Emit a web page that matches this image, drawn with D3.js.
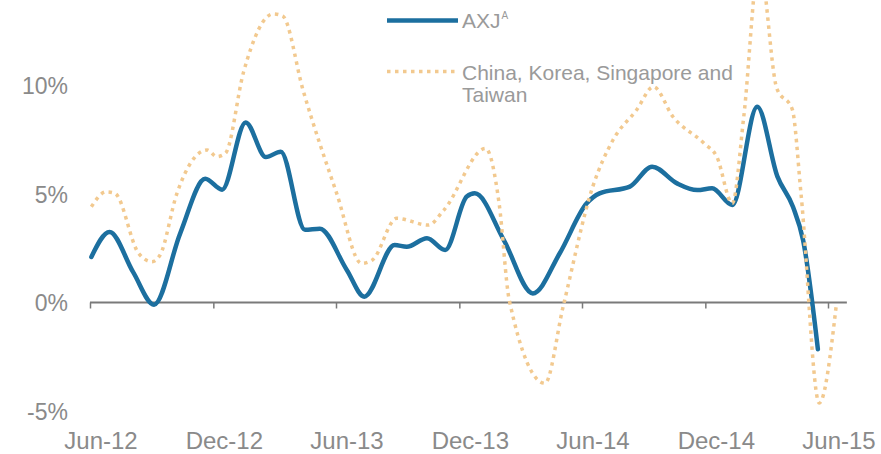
<!DOCTYPE html>
<html>
<head>
<meta charset="utf-8">
<script src="https://cdn.jsdelivr.net/npm/d3@7/dist/d3.min.js"></script>
<style>
  html, body { margin: 0; padding: 0; background: #fff; }
  svg { display: block; font-family: "Liberation Sans", Arial, sans-serif; }
</style>
</head>
<body>
<svg id="chart" width="881" height="454"></svg>
<script>
// Year-on-year growth, %, AXJ aggregate
const axjDates = [
  "2012-06-03","2012-06-30","2012-08-04","2012-09-04","2012-10-13","2012-11-19",
  "2012-12-14","2013-01-18","2013-02-17","2013-03-11","2013-04-16","2013-05-08",
  "2013-06-17","2013-07-13","2013-08-27","2013-09-14","2013-10-14","2013-11-10",
  "2013-12-12","2013-12-24","2014-02-05","2014-03-20","2014-04-29","2014-06-08",
  "2014-06-27","2014-08-11","2014-09-13","2014-10-20","2014-11-19","2014-12-11",
  "2015-01-10","2015-02-16","2015-03-18","2015-04-10","2015-04-25","2015-05-17"
];
const axjValues = [
  2.1, 3.25, 1.4, -0.1, 3.2, 5.7,
  5.2, 8.3, 6.7, 6.95, 3.35, 3.4,
  1.5, 0.27, 2.65, 2.57, 2.96, 2.42,
  4.88, 5.03, 2.88, 0.42, 2.27, 4.57,
  5.03, 5.34, 6.26, 5.49, 5.18, 5.26,
  4.49, 9.02, 5.8, 4.41, 2.88, -2.15
];

// Year-on-year growth, %, China, Korea, Singapore and Taiwan
const ckstDates = [
  "2012-06-03","2012-06-25","2012-07-08","2012-08-12","2012-09-01","2012-09-13",
  "2012-10-08","2012-11-22","2012-12-06","2012-12-19","2013-01-15","2013-02-28",
  "2013-03-14","2013-04-13","2013-06-02","2013-07-09","2013-07-25","2013-08-30",
  "2013-10-16","2013-11-08","2014-01-09","2014-01-29","2014-02-13","2014-04-07",
  "2014-05-04","2014-06-17","2014-07-17","2014-08-21","2014-09-15","2014-10-14",
  "2014-11-29","2014-12-18","2015-01-10","2015-01-27","2015-02-19","2015-03-17",
  "2015-04-09","2015-04-22","2015-05-19","2015-06-13"
];
const ckstValues = [
  4.41, 5.1, 5.03, 2.27, 1.88, 2.19,
  5.03, 7.03, 6.72, 6.88, 10.64, 13.3,
  13.2, 9.8, 5.03, 1.8, 1.96, 3.88,
  3.57, 4.26, 7.1, 4.57, 0.12, -3.72,
  -0.19, 5.34, 7.49, 8.87, 9.94, 8.56,
  7.34, 6.72, 4.57, 8.56, 15.6, 9.87,
  8.9, 5.0, -4.63, -0.2
];

// Axis ticks and labels
const xTickDates = ["2012-06-01","2012-12-01","2013-06-01","2013-12-01","2014-06-01","2014-12-01","2015-06-01"];
const xTickLabels = ["Jun-12","Dec-12","Jun-13","Dec-13","Jun-14","Dec-14","Jun-15"];
const yTickValues = [-5, 0, 5, 10];
const yTickLabels = ["-5%", "0%", "5%", "10%"];

const seriesNames = ["AXJ", "China, Korea, Singapore and", "Taiwan"];

const parse = d3.utcParse("%Y-%m-%d");
const axj = axjDates.map((d, i) => ({ date: parse(d), value: axjValues[i] }));
const ckst = ckstDates.map((d, i) => ({ date: parse(d), value: ckstValues[i] }));
const xTicks = xTickDates.map(parse);

const svg = d3.select("#chart");

const x = d3.scaleUtc()
  .domain([parse("2012-06-01"), parse("2015-06-01")])
  .range([90, 828]);
const y = d3.scaleLinear()
  .domain([-5, 10])
  .range([411, 85.5]);

const gray = "#8a8a8a";
const blue = "#1c6f9f";
const tan = "#f2c98f";

// Y axis labels
const yAxis = d3.axisLeft(y)
  .tickValues(yTickValues)
  .tickSize(0)
  .tickPadding(0)
  .tickFormat((d, i) => yTickLabels[i]);
const gy = svg.append("g").attr("transform", "translate(68,0)").call(yAxis);
gy.select(".domain").remove();
gy.selectAll("text")
  .attr("fill", gray)
  .style("font-size", "23px")
  .attr("dy", "0.36em");

// Zero line with tick marks
const axisEnd = parse("2015-06-29");
svg.append("line")
  .attr("x1", x(parse("2012-06-01")))
  .attr("x2", x(axisEnd))
  .attr("y1", y(0))
  .attr("y2", y(0))
  .attr("stroke", "#7a7a7a")
  .attr("stroke-width", 2);

const xTickAxis = d3.axisBottom(x)
  .tickValues(xTicks)
  .tickSize(6)
  .tickSizeOuter(0)
  .tickFormat("");
const gxt = svg.append("g").attr("transform", `translate(0,${y(0)})`).call(xTickAxis);
gxt.select(".domain").remove();
gxt.selectAll("line").attr("stroke", "#7a7a7a").attr("stroke-width", 1.5);

// X axis labels along the bottom edge
const xLabelAxis = d3.axisBottom(x)
  .tickValues(xTicks)
  .tickSize(0)
  .tickPadding(0)
  .tickFormat((d, i) => xTickLabels[i]);
const gxl = svg.append("g").attr("transform", "translate(10.5,432)").call(xLabelAxis);
gxl.select(".domain").remove();
gxl.selectAll("text")
  .attr("fill", gray)
  .attr("dy", "0.71em")
  .style("font-size", "24px");

// Series lines
const line = d3.line()
  .x(d => x(d.date))
  .y(d => y(d.value))
  .curve(d3.curveMonotoneX);

svg.append("path")
  .datum(axj)
  .attr("d", line)
  .attr("fill", "none")
  .attr("stroke", blue)
  .attr("stroke-width", 4.5)
  .attr("stroke-linejoin", "round")
  .attr("stroke-linecap", "round");

svg.append("path")
  .datum(ckst)
  .attr("d", line)
  .attr("fill", "none")
  .attr("stroke", tan)
  .attr("stroke-width", 3.5)
  .attr("stroke-dasharray", "3.5,4.5");

// Legend
const legend = svg.append("g");
legend.append("line")
  .attr("x1", 387).attr("x2", 458)
  .attr("y1", 20.5).attr("y2", 20.5)
  .attr("stroke", blue)
  .attr("stroke-width", 4.5);
const axjLabel = legend.append("text")
  .attr("x", 462).attr("y", 28)
  .attr("fill", "#9a9a9a")
  .style("font-size", "21px");
axjLabel.append("tspan").text(seriesNames[0]);
axjLabel.append("tspan")
  .attr("dx", 1)
  .attr("dy", -9)
  .style("font-size", "10px")
  .text("A");

legend.append("line")
  .attr("x1", 387).attr("x2", 456)
  .attr("y1", 71.5).attr("y2", 71.5)
  .attr("stroke", tan)
  .attr("stroke-width", 3.5)
  .attr("stroke-dasharray", "3.5,4.5");
const ckLabel = legend.append("text")
  .attr("fill", "#9a9a9a")
  .style("font-size", "21px");
ckLabel.append("tspan").attr("x", 462).attr("y", 80).text(seriesNames[1]);
ckLabel.append("tspan").attr("x", 462).attr("y", 102).text(seriesNames[2]);
</script>
</body>
</html>
